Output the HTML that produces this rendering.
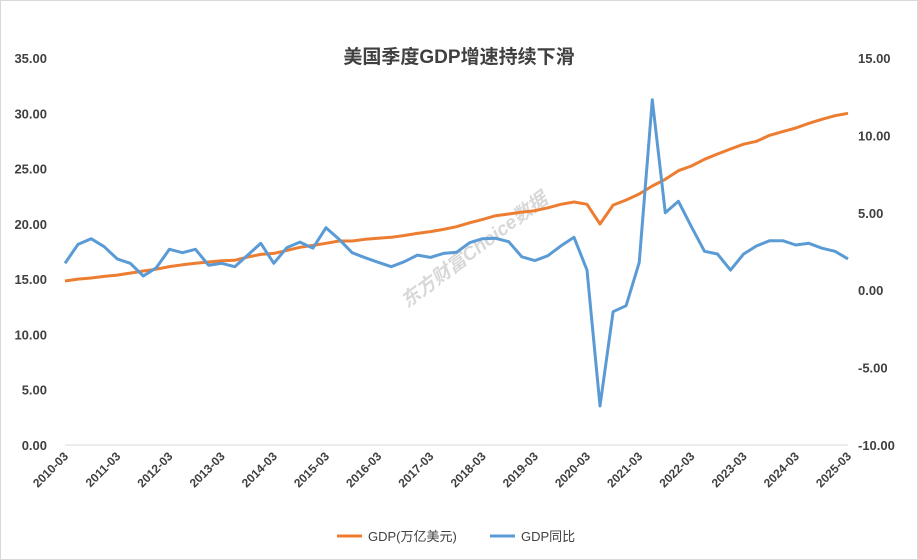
<!DOCTYPE html>
<html><head><meta charset="utf-8"><style>
body{margin:0;background:#fff;}
svg{display:block;font-family:"Liberation Sans","Noto Sans CJK SC",sans-serif;}
</style></head><body>
<svg id="chart" width="918" height="560">
<rect x="0.5" y="0.5" width="917" height="559" fill="#fff" stroke="#d9d9d9"/>
<text x="459" y="63" text-anchor="middle" font-size="19" font-weight="bold" fill="#404040">美国季度GDP增速持续下滑</text>
<text x="478" y="255" text-anchor="middle" font-size="19" font-weight="bold" font-style="italic" fill="#aaa" opacity="0.45" transform="rotate(-37 478 255)">东方财富Choice数据</text>
<g id="axes"></g>
<g id="series"></g>
<g>
<line x1="337" y1="536" x2="362" y2="536" stroke="#ed7d31" stroke-width="3"/>
<text x="368" y="541" font-size="13" fill="#404040">GDP(万亿美元)</text>
<line x1="490" y1="536" x2="515" y2="536" stroke="#5b9bd5" stroke-width="3"/>
<text x="521" y="541" font-size="13" fill="#404040">GDP同比</text>
</g>
</svg>
<script>
const years = ["2010","2011","2012","2013","2014","2015","2016","2017","2018","2019","2020","2021","2022","2023","2024","2025"];
const gdp = [14.83,15.0,15.1,15.25,15.37,15.55,15.74,15.9,16.13,16.3,16.43,16.55,16.67,16.7,17.0,17.24,17.33,17.6,17.88,18.05,18.24,18.45,18.45,18.6,18.7,18.78,18.95,19.14,19.3,19.5,19.74,20.1,20.4,20.74,20.89,21.05,21.19,21.45,21.77,21.98,21.77,19.99,21.7,22.16,22.7,23.42,24.03,24.81,25.23,25.84,26.32,26.77,27.2,27.47,28.01,28.34,28.67,29.09,29.46,29.78,30.0];
const yoy = [1.74,2.96,3.33,2.81,2.02,1.74,0.92,1.45,2.64,2.42,2.64,1.61,1.74,1.52,2.27,3.03,1.74,2.75,3.11,2.71,4.04,3.29,2.42,2.1,1.8,1.52,1.84,2.27,2.12,2.38,2.45,3.07,3.33,3.35,3.13,2.16,1.91,2.23,2.86,3.42,1.30,-7.48,-1.39,-1.0,1.78,12.3,5.0,5.74,4.1,2.51,2.34,1.30,2.34,2.86,3.2,3.2,2.92,3.03,2.71,2.51,2.02];
const leftTicks = [0,5,10,15,20,25,30,35];
const rightTicks = [-10,-5,0,5,10,15];

const NS="http://www.w3.org/2000/svg";
const X0=65,X1=848,YT=58,YB=445;
const n=gdp.length;
function xs(i){return X0+(X1-X0)*i/(n-1);}
function yl(v){return YB-(v-0)/35*(YB-YT);}
function yr(v){return YB-(v+10)/25*(YB-YT);}
function mk(tag,attrs,parent){const e=document.createElementNS(NS,tag);for(const k in attrs)e.setAttribute(k,attrs[k]);parent.appendChild(e);return e;}
const ax=document.getElementById('axes'), se=document.getElementById('series');

leftTicks.forEach(v=>{
  const t=mk('text',{x:47,y:yl(v)+5,'text-anchor':'end','font-size':13,'font-weight':'bold',fill:'#404040'},ax);
  t.textContent=v.toFixed(2);
  
  
});
rightTicks.forEach(v=>{
  const t=mk('text',{x:858,y:yr(v)+5,'text-anchor':'start','font-size':13,'font-weight':'bold',fill:'#404040'},ax);
  t.textContent=v.toFixed(2);
  
  
});
const axl=mk('line',{x1:X0,y1:YB,x2:X1,y2:YB,stroke:'#d9d9d9','stroke-width':1},ax);


years.forEach((y,k)=>{
  const x=xs(k*4);
  const t=mk('text',{x:x+4,y:YB+12,'text-anchor':'end','font-size':12,'font-weight':'bold',fill:'#404040',transform:`rotate(-45 ${x+4} ${YB+12})`},ax);
  t.textContent=y+"-03";
  
  
});
function line(vals,fy,color,name){
  const d=vals.map((v,i)=>(i?'L':'M')+xs(i).toFixed(1)+' '+fy(v).toFixed(1)).join(' ');
  const p=mk('path',{d:d,fill:'none',stroke:color,'stroke-width':3,'stroke-linejoin':'round'},se);
  
  
}
line(gdp,yl,'#ed7d31','gdp-line');
line(yoy,yr,'#5b9bd5','gdp-yoy-line');
</script>
</body></html>
